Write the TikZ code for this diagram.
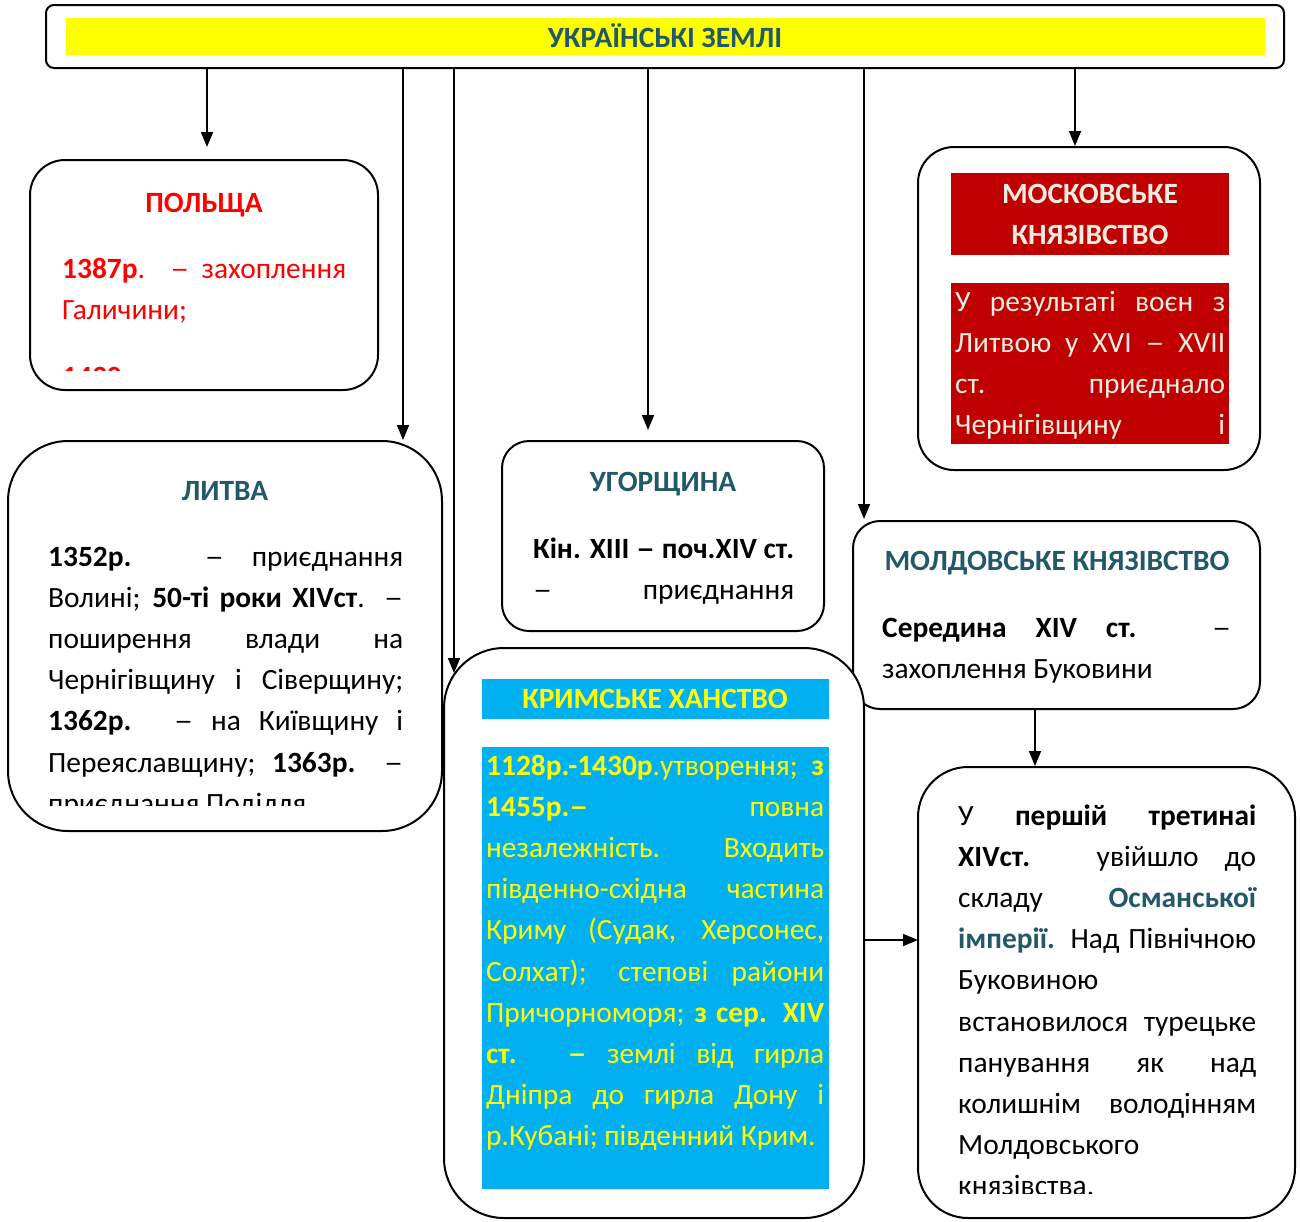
\documentclass[tikz,border=0pt]{standalone}
\usepackage{fontspec}
\usepackage{graphicx}
\setmainfont{Carlito}
\usetikzlibrary{arrows.meta}
\definecolor{teal5}{RGB}{34,89,105}
\definecolor{dred}{RGB}{192,0,0}
\definecolor{cream}{RGB}{238,236,225}
\definecolor{sky}{RGB}{0,176,240}
\definecolor{yel}{RGB}{255,255,0}
\newcommand\tblock[2]{\vtop{\hsize=#1pt\baselineskip=41.2pt\lineskip=0pt\lineskiplimit=-100pt\parindent=0pt\relax #2}}
\newcommand\Jl[1]{\hbox to\hsize{\spaceskip=.2263em plus 1fil\relax#1}}
\newcommand\Ll[1]{\hbox to\hsize{#1\hfil}}
\newcommand\dsh{\scalebox{1.3}[1]{–}}
\tikzset{
  box/.style={draw=black, line width=2pt, fill=white, inner sep=0pt},
  arr/.style={line width=1.7pt, -{Triangle[length=15pt,width=12pt]}},
  ttl/.style={font=\fontsize{29.4}{35}\selectfont\bfseries, inner sep=0pt, anchor=base},
  txt/.style={font=\fontsize{29.4}{41.2}\selectfont, inner sep=0pt, anchor=base west},
}
\begin{document}
\begin{tikzpicture}[x=1pt,y=-1pt]
\useasboundingbox (0,0) rectangle (1300,1221);
% top
\node[box, rounded corners=8, minimum width=1238, minimum height=63] (top) at (665,36.5) {};
\fill[yel] (66,18) rectangle (1265,55);
\node[ttl, text=teal5] (topT) at (665,47.5) {УКРАЇНСЬКІ ЗЕМЛІ};
% Poland
\node[box, rounded corners=35, minimum width=348, minimum height=230] (pol) at (204,275) {};
\node[ttl, text=red] (polT) at (204,212) {ПОЛЬЩА};
\begin{scope}
\clip (32,162) rectangle (376,370);
\node[txt, text=red] (polB) at (62,278) {\tblock{284}{\Jl{{\bfseries 1387р}. \dsh{} захоплення}\Ll{Галичини;}\vskip26pt\Ll{{\bfseries 1430р.}}}};
\end{scope}
% Lithuania
\node[box, rounded corners=60, minimum width=434, minimum height=390] (lit) at (225,636) {};
\node[ttl, text=teal5] (litT) at (225,500) {ЛИТВА};
\begin{scope}
\clip (10,443) rectangle (440,805);
\node[txt] (litB) at (48,566) {\tblock{355}{%
\Jl{{\bfseries 1352р.} \dsh{} приєднання}%
\Jl{Волині; {\bfseries 50-ті роки XIVст}. \dsh}%
\Jl{поширення влади на}%
\Jl{Чернігівщину і Сіверщину;}%
\Jl{{\bfseries 1362р.} \dsh{} на Київщину і}%
\Jl{Переяславщину; {\bfseries 1363р.} \dsh}%
\Ll{приєднання Поділля}}};
\end{scope}
% Hungary
\node[box, rounded corners=27, minimum width=322, minimum height=190] (ugo) at (663,536) {};
\node[ttl, text=teal5] (ugoT) at (663,491) {УГОРЩИНА};
\node[txt] (ugoB) at (533,558) {\tblock{261}{%
\Jl{\bfseries Кін. XIII \dsh{} поч.XIV ст.}%
\Jl{\dsh{} приєднання}}};
% Moscow
\node[box, rounded corners=36, minimum width=342, minimum height=323] (mos) at (1089,308.5) {};
\fill[dred] (951,173) rectangle (1229,255);
\node[ttl, text=cream] (mosT1) at (1090,203) {МОСКОВСЬКЕ};
\node[ttl, text=cream] (mosT2) at (1090,244) {КНЯЗІВСТВО};
\fill[dred] (951,283) rectangle (1229,444);
\begin{scope}
\clip (951,283) rectangle (1229,444);
\node[txt, text=cream] (mosB) at (955,311) {\tblock{270}{%
\Jl{У результаті воєн з}%
\Jl{Литвою у XVI \dsh{} XVII}%
\Jl{ст. приєднало}%
\Jl{Чернігівщину і}}};
\end{scope}
% Moldavia
\node[box, rounded corners=27, minimum width=407, minimum height=188] (mol) at (1056.5,615) {};
\node[ttl, text=teal5] (molT) at (1057,570) {МОЛДОВСЬКЕ КНЯЗІВСТВО};
\node[txt] (molB) at (882,637) {\tblock{349}{%
\Jl{{\bfseries Середина XIV ст.} \dsh}%
\Ll{захоплення Буковини}}};
% Crimea
\node[box, rounded corners=60, minimum width=420, minimum height=570] (kry) at (654,933) {};
\fill[sky] (482,679) rectangle (829,719);
\node[ttl, text=yel] (kryT) at (655,708) {КРИМСЬКЕ ХАНСТВО};
\fill[sky] (482,747) rectangle (829,1189);
\node[txt, text=yel] (kryB) at (486,775) {\tblock{338}{%
\Jl{{\bfseries 1128р.-1430р}.утворення; {\bfseries з}}%
\Jl{{\bfseries 1455р.\dsh} повна}%
\Jl{незалежність. Входить}%
\Jl{південно-східна частина}%
\Jl{Криму (Судак, Херсонес,}%
\Jl{Солхат); степові райони}%
\Jl{Причорноморя; {\bfseries з сер. XIV}}%
\Jl{{\bfseries ст. \dsh} землі від гирла}%
\Jl{Дніпра до гирла Дону і}%
\Ll{р.Кубані; південний Крим.}}};
% Ottoman
\node[box, rounded corners=50, minimum width=377, minimum height=451] (osm) at (1106.5,992.5) {};
\begin{scope}
\clip (920,769) rectangle (1293,1193);
\node[txt] (osmB) at (958,825) {\tblock{298}{%
\Jl{У {\bfseries першій третинаі}}%
\Jl{{\bfseries XIVст.} увійшло до}%
\Jl{складу {\bfseries\color{teal5}Османської}}%
\Jl{{\bfseries\color{teal5}імперії.} Над Північною}%
\Ll{Буковиною}%
\Jl{встановилося турецьке}%
\Jl{панування як над}%
\Jl{колишнім володінням}%
\Ll{Молдовського}%
\Ll{князівства.}}};
\end{scope}
% arrows
\coordinate (tPol) at (207,147);
\coordinate (tLit) at (403,440);
\coordinate (tKry) at (454,673);
\coordinate (tUgo) at (648,430);
\coordinate (tMol) at (864,519);
\coordinate (tMos) at (1075,146);
\coordinate (tOsm) at (1035,766);
\coordinate (tOsm2) at (918,940);
\draw[arr] (top.south -| tPol) -- (tPol);
\draw[arr] (top.south -| tLit) -- (tLit);
\draw[arr] (top.south -| tKry) -- (tKry);
\draw[arr] (top.south -| tUgo) -- (tUgo);
\draw[arr] (top.south -| tMol) -- (tMol);
\draw[arr] (top.south -| tMos) -- (tMos);
\draw[arr] (mol.south -| tOsm) -- (tOsm);
\draw[arr] (kry.east |- tOsm2) -- (tOsm2);
\end{tikzpicture}
\end{document}
